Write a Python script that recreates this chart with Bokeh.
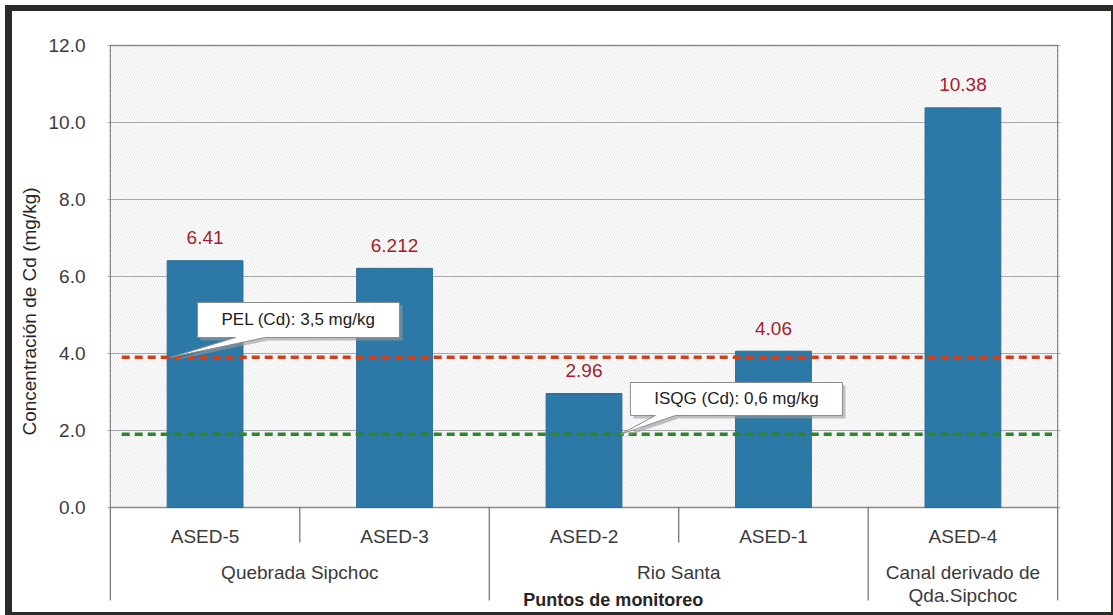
from bokeh.plotting import figure
from bokeh.models import Range1d, FixedTicker, NumeralTickFormatter
from bokeh.core.properties import value
from bokeh.embed import file_html
from bokeh.resources import INLINE

# ---- data ----
stations = ["ASED-5", "ASED-3", "ASED-2", "ASED-1", "ASED-4"]
cd_values = [6.41, 6.212, 2.96, 4.06, 10.38]
value_labels = ["6.41", "6.212", "2.96", "4.06", "10.38"]
groups = ["Quebrada Sipchoc", "Rio Santa", "Canal derivado de\nQda.Sipchoc"]
group_sizes = [2, 2, 1]
y_ticks = [0, 2, 4, 6, 8, 10, 12]
pel_level = 3.9
isqg_level = 1.9
pel_text = "PEL (Cd): 3,5 mg/kg"
isqg_text = "ISQG (Cd): 0,6 mg/kg"

FONT = value("Liberation Sans")
Y_TOP, Y_BOTTOM = 12.883, -2.701

p = figure(width=1099, height=601,
           x_range=Range1d(-0.015, 5.015), y_range=Range1d(Y_BOTTOM, Y_TOP),
           x_axis_location=None, output_backend="svg", toolbar_location=None,
           min_border_left=95, min_border_right=51, min_border_top=0,
           min_border_bottom=1)
p.outline_line_color = None
p.background_fill_color = "white"
p.border_fill_color = "white"
# dark frame around the chart, drawn as a shadow so it takes no layout space
p.styles = {"margin": "11px 0 0 12px",
            "box-shadow": "-2px -1px 0 5px #2b2a26"}

n = len(stations)
centers = [i + 0.5 for i in range(n)]

# hatched plotting area
p.quad(left=[0], right=[n], bottom=[0], top=[y_ticks[-1]], fill_color="white",
       line_color=None, hatch_pattern="left_diagonal_line", hatch_color="#b4b4ba",
       hatch_alpha=0.38, hatch_scale=5, hatch_weight=0.8, level="image")

# y axis
ax = p.yaxis[0]
ax.ticker = FixedTicker(ticks=y_ticks)
ax.formatter = NumeralTickFormatter(format="0.0")
ax.axis_line_color = None
ax.major_tick_line_color = None
ax.minor_tick_line_color = None
ax.major_label_standoff = 16
ax.major_label_text_font = "Liberation Sans"
ax.major_label_text_font_size = "19px"
ax.major_label_text_color = "#3c3c3c"
ax.axis_label = "Concentración de Cd (mg/kg)"
ax.axis_label_text_font = "Liberation Sans"
ax.axis_label_text_font_style = "normal"
ax.axis_label_text_font_size = "19px"
ax.axis_label_text_color = "#262626"
ax.axis_label_standoff = 6

p.ygrid.grid_line_color = "#a6a8b0"
p.ygrid.grid_line_width = 1
p.xgrid.visible = False

# plot area border
p.quad(left=[0], right=[n], bottom=[0], top=[y_ticks[-1]], fill_color=None,
       line_color="#8a8a8e", line_width=1.3)

# bars
p.vbar(x=centers, top=cd_values, bottom=0, width=0.4,
       fill_color="#2c79a7", line_color="#2a6d96", line_width=1)

# value labels
p.text(x=centers, y=[v + 0.6 for v in cd_values], text=value_labels,
       text_align="center", text_baseline="middle", text_font=FONT,
       text_font_size="19px", text_color="#a31d2c")

# guideline levels
p.line(x=[0.06, 4.97], y=[pel_level] * 2, line_color="#cf4020",
       line_width=3.5, line_dash="8 5")
p.line(x=[0.06, 4.97], y=[isqg_level] * 2, line_color="#2e862b",
       line_width=3.5, line_dash="8 5")


def callout(box, tail, tip, label):
    left, right, bottom, top = box
    xs = [left, right, right, tail[1], tip[0], tail[0], left]
    ys = [top, top, bottom, bottom, tip[1], bottom, bottom]
    p.patch(x=[v + 0.016 for v in xs], y=[v - 0.078 for v in ys],
            fill_color="#9a9a9a", fill_alpha=0.6, line_color=None)
    p.patch(x=xs, y=ys, fill_color="white", line_color="#8c8c8c", line_width=1)
    p.text(x=[(left + right) / 2], y=[(top + bottom) / 2], text=[label],
           text_align="center", text_baseline="middle", text_font=FONT,
           text_font_size="17px", text_color="#1c1c1c")


callout((0.460, 1.526, 4.416, 5.325), (0.661, 0.819), (0.318, pel_level), pel_text)
callout((2.745, 3.864, 2.390, 3.247), (2.877, 2.983), (2.692, isqg_level), isqg_text)

# category separators below the axis
bounds = [0]
for s in group_sizes:
    bounds.append(bounds[-1] + s)
sep_x = list(range(n + 1))
sep_y = [-2.416 if x in bounds else -0.909 for x in sep_x]
p.segment(x0=sep_x, y0=[0] * len(sep_x), x1=sep_x, y1=sep_y,
          line_color="#6e6e6e", line_width=1.2)

# station labels
p.text(x=centers, y=[-0.753] * n, text=stations, text_align="center",
       text_baseline="alphabetic", text_font=FONT, text_font_size="19px",
       text_color="#3a3a3a")

# group labels (one text row per line)
gx, gy, gt = [], [], []
for i, g in enumerate(groups):
    mid = (bounds[i] + bounds[i + 1]) / 2
    for j, part in enumerate(g.split("\n")):
        gx.append(mid)
        gy.append(-1.688 - 0.598 * j)
        gt.append(part)
p.text(x=gx, y=gy, text=gt, text_align="center", text_baseline="alphabetic",
       text_font=FONT, text_font_size="19px", text_color="#3a3a3a")

# x axis title
p.text(x=[2.655], y=[-2.39], text=["Puntos de monitoreo"], text_align="center",
       text_baseline="alphabetic", text_font=FONT, text_font_size="18px",
       text_font_style="bold", text_color="#262626")

open("out.html", "w").write(file_html(p, INLINE))
